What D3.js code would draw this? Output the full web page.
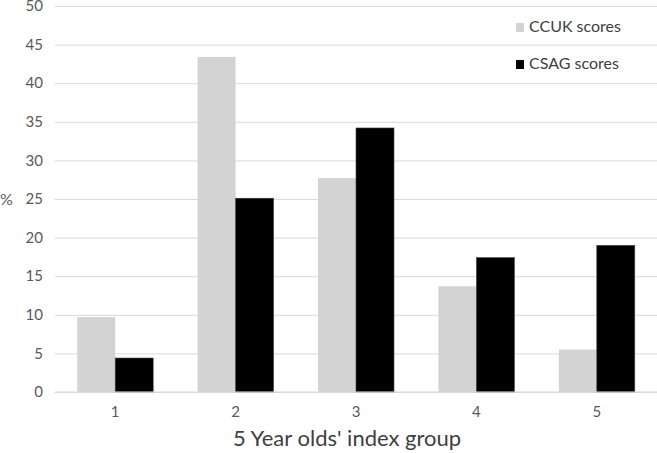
<!DOCTYPE html>
<html>
<head>
<meta charset="utf-8">
<script src="https://cdn.jsdelivr.net/npm/d3@7"></script>
<style>
  html, body { margin: 0; padding: 0; background: #fff; }
  svg { display: block; }
  text { font-family: Lato, "Open Sans", sans-serif; }
</style>
</head>
<body>
<svg id="chart" width="657" height="453"></svg>
<script>
const categories = ["1", "2", "3", "4", "5"];
const seriesNames = ["CCUK scores", "CSAG scores"];
const ccukValues = [9.7, 43.4, 27.7, 13.7, 5.5];
const csagValues = [4.4, 25.1, 34.2, 17.4, 19.0];
const yTicks = [0, 5, 10, 15, 20, 25, 30, 35, 40, 45, 50];
const xTitle = "5 Year olds' index group";
const yTitle = "%";
const colors = ["#d3d3d3", "#000000"];

const svg = d3.select("#chart");
const W = 657, H = 453;
const margin = { left: 55, right: 0, top: 6, bottom: 61 };
const plotW = W - margin.left - margin.right;
const plotH = H - margin.top - margin.bottom; // 0 at y=392

const pad = 0.369;
const x0 = d3.scaleBand().domain(categories)
  .range([margin.left, W - margin.right])
  .paddingInner(pad).paddingOuter(pad / 2);
const x1 = d3.scaleBand().domain(seriesNames).range([0, x0.bandwidth()]);
const y = d3.scaleLinear().domain([0, 50]).range([margin.top + plotH, margin.top]);

// gridlines
const grid = svg.append("g")
  .attr("transform", `translate(${margin.left},0)`)
  .call(d3.axisLeft(y).tickValues(yTicks).tickSize(-plotW).tickFormat(""));
grid.select(".domain").remove();
grid.selectAll("line").attr("stroke", "#d9d9d9").attr("stroke-width", 1);

// y tick labels
svg.append("g").selectAll("text").data(yTicks).join("text")
  .attr("x", 43).attr("y", d => y(d)).attr("dy", "0.35em")
  .attr("text-anchor", "end").attr("font-size", 15).attr("fill", "#595959")
  .text(d => d);

// bars
const rows = categories.map((c, i) => ({ cat: c, vals: [ccukValues[i], csagValues[i]] }));
const groups = svg.append("g").selectAll("g").data(rows).join("g")
  .attr("transform", d => `translate(${x0(d.cat)},0)`);
groups.selectAll("rect").data(d => d.vals.map((v, j) => ({ key: seriesNames[j], v, j })))
  .join("rect")
  .attr("x", d => x1(d.key))
  .attr("width", x1.bandwidth())
  .attr("y", d => y(d.v))
  .attr("height", d => y(0) - y(d.v))
  .attr("fill", d => colors[d.j])
  .attr("stroke", d => d.j === 1 ? "#404040" : "none")
  .attr("stroke-width", 0.6);

// baseline
svg.append("line")
  .attr("x1", margin.left).attr("x2", W - margin.right)
  .attr("y1", y(0)).attr("y2", y(0))
  .attr("stroke", "#d9d9d9").attr("stroke-width", 1);

// x tick labels
const xAxis = svg.append("g")
  .attr("transform", `translate(0,${y(0)})`)
  .call(d3.axisBottom(x0).tickSize(0).tickPadding(14));
xAxis.select(".domain").remove();
xAxis.selectAll("text").attr("font-size", 15).attr("fill", "#595959")
  .attr("font-family", "Lato, 'Open Sans', sans-serif");

// axis titles
svg.append("text").attr("x", 347).attr("y", 446)
  .attr("text-anchor", "middle").attr("font-size", 22).attr("fill", "#404040")
  .text(xTitle);
svg.append("text").attr("x", 0).attr("y", y(25)).attr("dy", "0.35em")
  .attr("font-size", 16).attr("fill", "#595959").text(yTitle);

// legend
const legend = svg.append("g").selectAll("g").data(seriesNames).join("g")
  .attr("transform", (d, i) => `translate(516,${23 + i * 37})`);
legend.append("rect").attr("width", 8).attr("height", 9)
  .attr("fill", (d, i) => colors[i]);
legend.append("text").attr("x", 13).attr("y", 9)
  .attr("font-size", 16).attr("fill", "#404040").text(d => d);
</script>
</body>
</html>
